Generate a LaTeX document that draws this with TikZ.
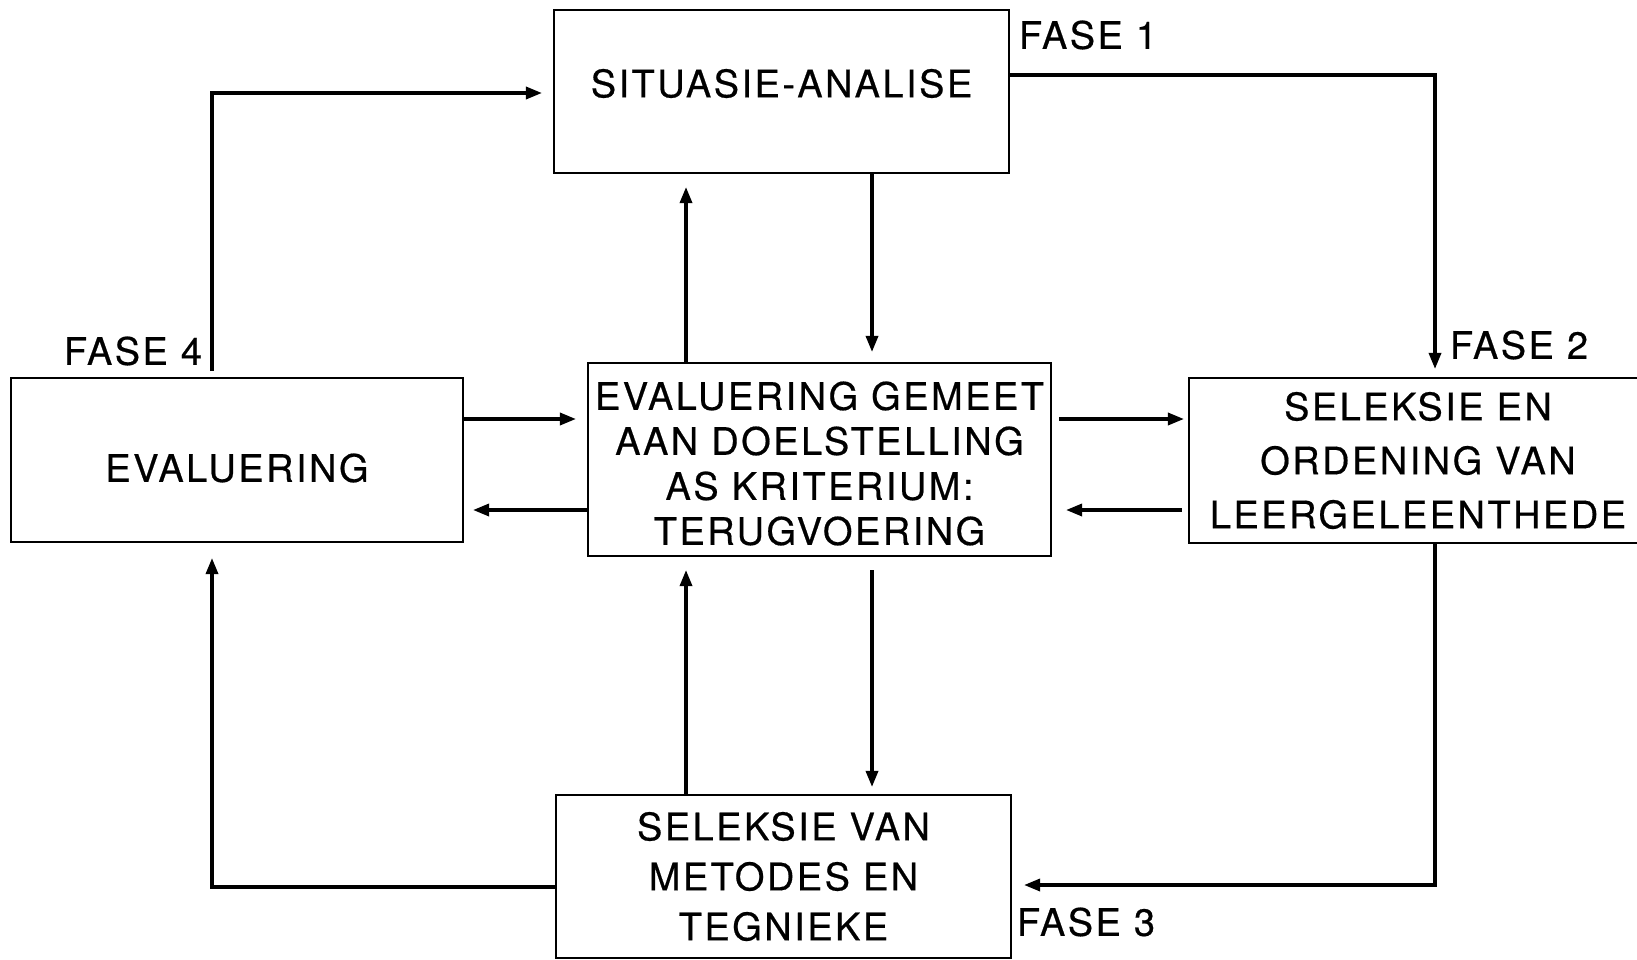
\documentclass[tikz,border=0pt]{standalone}
\usepackage{fontspec}
\setmainfont{TeX Gyre Heros}[LetterSpace=6.5,FakeBold=0.5]
\usetikzlibrary{arrows.meta,calc}
\begin{document}
\begin{tikzpicture}[x=1pt,y=-1pt,
  box/.style={draw,line width=2.1pt,inner sep=0pt,align=center,
    font=\fontsize{38}{46}\selectfont},
  inlabel/.style={align=center,inner sep=0pt},
  conn/.style={line width=3.3pt},
  arr/.style={conn,-{Triangle[length=16pt,width=12pt]}},
  fase/.style={font=\fontsize{38}{46}\selectfont,inner sep=0pt}]
\useasboundingbox (0,0) rectangle (1637,960);
% boxes
\node[box,minimum width=455pt,minimum height=163pt,
  label={[inlabel,yshift=8pt,font=\fontsize{38}{46}\selectfont]center:SITUASIE-ANALISE}] (sa) at (781.5,91.5) {};
\node[box,minimum width=452pt,minimum height=164pt,
  label={[inlabel,yshift=-8pt,font=\fontsize{38}{46}\selectfont]center:EVALUERING}] (ev) at (237,460) {};
\node[box,minimum width=463pt,minimum height=193pt,
  label={[inlabel,yshift=-4pt,font=\fontsize{38}{45}\selectfont]center:EVALUERING GEMEET\\AAN DOELSTELLING\\AS KRITERIUM:\\TERUGVOERING}] (cen) at (819.5,459.5) {};
\node[box,minimum width=458pt,minimum height=165pt,
  font=\fontsize{38}{54}\selectfont] (rt) at (1418,460.5)
  {SELEKSIE EN\\ORDENING VAN\\LEERGELEENTHEDE};
\node[box,minimum width=455pt,minimum height=163pt,
  font=\fontsize{38}{50}\selectfont] (bot) at (783.5,876.5)
  {SELEKSIE VAN\\METODES EN\\TEGNIEKE};
% phase labels
\node[fase] (f1) at (1088,35) {FASE 1};
\node[fase] (f2) at (1519,345) {FASE 2};
\node[fase] (f3) at (1086,922) {FASE 3};
\node[fase] (f4) at (133,351) {FASE 4};
% corner coordinates
\coordinate (c1) at (1435,75);
\coordinate (c2) at (1435,885);
\coordinate (c3) at (212,887);
\coordinate (c4) at (212,93);
\coordinate (s4) at (212,371);
\coordinate (xa) at (686,0);
\coordinate (xb) at (872,0);
\coordinate (ya) at (0,419);
\coordinate (yb) at (0,510);
% outer loop
\draw[arr,shorten >=8pt] (sa.east |- c1) -- (c1) -- (c1 |- rt.north);
\draw[arr,shorten >=12pt] (rt.south -| c2) -- (c2) -- (c2 -| bot.east);
\draw[arr,shorten >=15pt] (bot.west |- c3) -- (c3) -- (c3 |- ev.south);
\draw[arr,shorten >=11pt] (s4) -- (c4) -- (c4 -| sa.west);
% centre links, top
\draw[arr,shorten >=13pt] (cen.north -| xa) -- (sa.south -| xa);
\draw[arr,shorten >=10pt] (sa.south -| xb) -- (cen.north -| xb);
% centre links, bottom
\draw[arr,shorten >=13pt] (bot.north -| xa) -- (cen.south -| xa);
\draw[arr,shorten <=13pt,shorten >=7pt] (cen.south -| xb) -- (bot.north -| xb);
% centre links, left
\draw[arr,shorten >=11pt] (ev.east |- ya) -- (cen.west |- ya);
\draw[arr,shorten >=9pt] (cen.west |- yb) -- (ev.east |- yb);
% centre links, right
\draw[arr,shorten <=7pt,shorten >=4pt] (cen.east |- ya) -- (rt.west |- ya);
\draw[arr,shorten <=6pt,shorten >=14pt] (rt.west |- yb) -- (cen.east |- yb);
\end{tikzpicture}
\end{document}
